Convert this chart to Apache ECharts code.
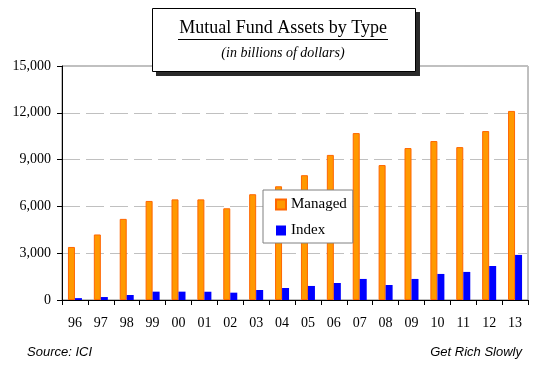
<!DOCTYPE html>
<html>
<head>
<meta charset="utf-8">
<style>
  html, body { margin: 0; padding: 0; background: #ffffff; }
  #chart { width: 546px; height: 365px; }
</style>
<script src="https://cdn.jsdelivr.net/npm/echarts@6/dist/echarts.min.js"></script>
</head>
<body>
<div id="chart"></div>
<script>
const years = ['96','97','98','99','00','01','02','03','04','05','06','07','08','09','10','11','12','13'];
const managed = [3400, 4200, 5200, 6350, 6450, 6450, 5880, 6780, 7290, 8000, 9300, 10700, 8650, 9740, 10190, 9800, 10830, 12120];
const indexFunds = [120, 190, 320, 535, 535, 530, 470, 640, 770, 900, 1090, 1350, 960, 1350, 1670, 1800, 2180, 2890];
const yTicks = [0, 3000, 6000, 9000, 12000, 15000];

const chart = echarts.init(document.getElementById('chart'), null, { renderer: 'canvas' });
const serif = '"Liberation Serif", "Times New Roman", serif';
const sans = '"Liberation Sans", Arial, sans-serif';

chart.setOption({
  animation: false,
  backgroundColor: '#ffffff',
  grid: {
    left: 62, right: 18, top: 66, bottom: 65,
    show: true, borderColor: '#808080', borderWidth: 1, backgroundColor: 'transparent'
  },
  legend: {
    orient: 'vertical',
    left: 263, top: 190,
    padding: [7, 6, 5, 12],
    itemWidth: 10, itemHeight: 10,
    itemGap: 11,
    borderColor: '#808080', borderWidth: 1,
    backgroundColor: '#ffffff',
    icon: 'rect',
    textStyle: { fontFamily: serif, fontSize: 15, color: '#000000' },
    data: ['Managed', 'Index'],
    z: 10
  },
  xAxis: {
    type: 'category',
    data: years,
    boundaryGap: true,
    axisLine: { show: true, lineStyle: { color: '#000000', width: 1 } },
    axisTick: { show: true, alignWithLabel: false, length: 5, lineStyle: { color: '#000000' } },
    axisLabel: { margin: 16, fontFamily: serif, fontSize: 14, color: '#000000', interval: 0 },
    splitLine: { show: false }
  },
  yAxis: {
    type: 'value',
    min: yTicks[0], max: yTicks[yTicks.length - 1], interval: 3000,
    axisLine: { show: true, lineStyle: { color: '#000000', width: 1 } },
    axisTick: { show: true, length: 5, lineStyle: { color: '#000000' } },
    axisLabel: {
      margin: 11, fontFamily: serif, fontSize: 14, color: '#000000',
      formatter: v => v.toLocaleString('en-US')
    },
    splitLine: { show: true, lineStyle: { color: '#c0c0c0', type: [18, 6], width: 1 } }
  },
  series: [
    {
      name: 'Managed', type: 'bar', data: managed,
      barWidth: 7, barGap: '0%',
      itemStyle: { color: '#FF9900', borderColor: '#FF6600', borderWidth: 1 }
    },
    {
      name: 'Index', type: 'bar', data: indexFunds,
      barWidth: 7, barGap: '0%',
      itemStyle: { color: '#0000FF' }
    }
  ],
  graphic: [
    { type: 'rect', z: 20, shape: { x: 156, y: 12, width: 264, height: 64 }, style: { fill: '#2b2b2b' } },
    { type: 'rect', z: 21, shape: { x: 152.5, y: 8.5, width: 263, height: 63 }, style: { fill: '#ffffff', stroke: '#000000', lineWidth: 1 } },
    { type: 'text', z: 22, x: 283, y: 37, style: { text: 'Mutual Fund Assets by Type', font: '18px ' + serif, fill: '#000000', textAlign: 'center', textVerticalAlign: 'bottom' } },
    { type: 'line', z: 22, shape: { x1: 178, y1: 39.5, x2: 388, y2: 39.5 }, style: { stroke: '#000000', lineWidth: 1 } },
    { type: 'text', z: 22, x: 283, y: 53, style: { text: '(in billions of dollars)', font: 'italic 14px ' + serif, fill: '#000000', textAlign: 'center', textVerticalAlign: 'middle' } },
    { type: 'text', z: 22, x: 27, y: 352, style: { text: 'Source: ICI', font: 'italic 13px ' + sans, fill: '#000000', textAlign: 'left', textVerticalAlign: 'middle' } },
    { type: 'text', z: 22, x: 522, y: 352, style: { text: 'Get Rich Slowly', font: 'italic 13px ' + sans, fill: '#000000', textAlign: 'right', textVerticalAlign: 'middle' } }
  ]
});
</script>
</body>
</html>
